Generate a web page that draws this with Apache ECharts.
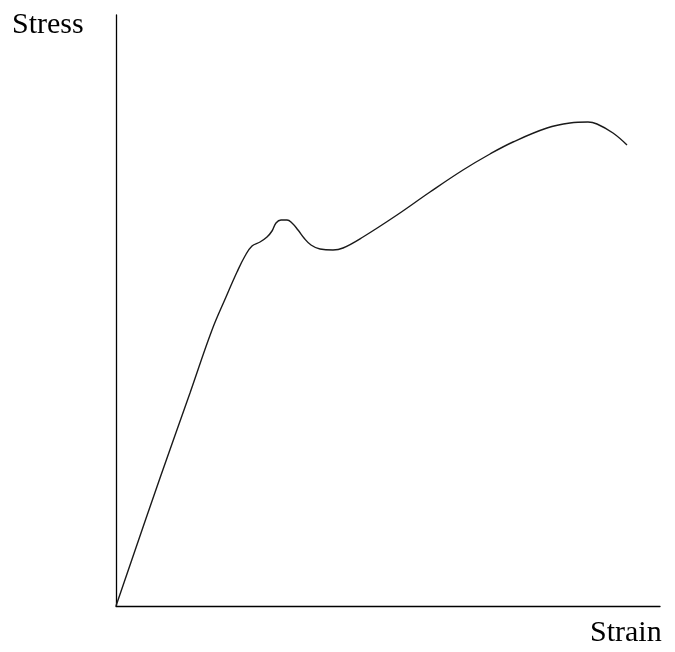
<!DOCTYPE html>
<html>
<head>
<meta charset="utf-8">
<style>
  html, body { margin: 0; padding: 0; background: #fff; }
  #chart { width: 675px; height: 652px; }
</style>
<script src="https://cdn.jsdelivr.net/npm/echarts@6/dist/echarts.min.js"></script>
</head>
<body>
<div id="chart"></div>
<script>
// strain / stress (arbitrary units)
const strain = [0, 44, 74, 96, 110, 121, 129, 136, 144, 151, 156, 160, 165, 171, 176, 182, 188, 195, 204, 217, 227, 247, 281, 314, 347, 374, 397, 431, 454, 472, 481, 497, 511];
const stress = [0, 128, 213, 276, 309, 334, 350, 360, 364, 369, 375, 383, 386, 386, 383, 376, 368, 361, 357, 356, 358, 369, 391, 414, 436, 452, 464, 478, 483, 484, 482, 473, 461];
const xLabel = 'Strain';
const yLabel = 'Stress';

const points = strain.map((x, i) => [x, stress[i]]);

const chart = echarts.init(document.getElementById('chart'));

const bareAxis = {
  type: 'value',
  min: 0,
  axisLine: { show: true, onZero: false, lineStyle: { color: '#000', width: 1.3 } },
  axisTick: { show: false },
  axisLabel: { show: false },
  splitLine: { show: false }
};

chart.setOption({
  animation: false,
  backgroundColor: '#fff',
  grid: { left: 116, right: 15, top: 15, bottom: 46 },
  xAxis: Object.assign({}, bareAxis, { max: 544 }),
  yAxis: Object.assign({}, bareAxis, { max: 591 }),
  graphic: [
    {
      type: 'text', left: 12, top: 10,
      style: { text: yLabel, font: '30px "Liberation Serif", serif', fill: '#000' }
    },
    {
      type: 'text', left: 590, top: 618,
      style: { text: xLabel, font: '30px "Liberation Serif", serif', fill: '#000' }
    }
  ],
  series: [{
    type: 'line',
    data: points,
    smooth: 0.4,
    showSymbol: false,
    lineStyle: { color: '#1a1a1a', width: 1.4 }
  }]
});
</script>
</body>
</html>
